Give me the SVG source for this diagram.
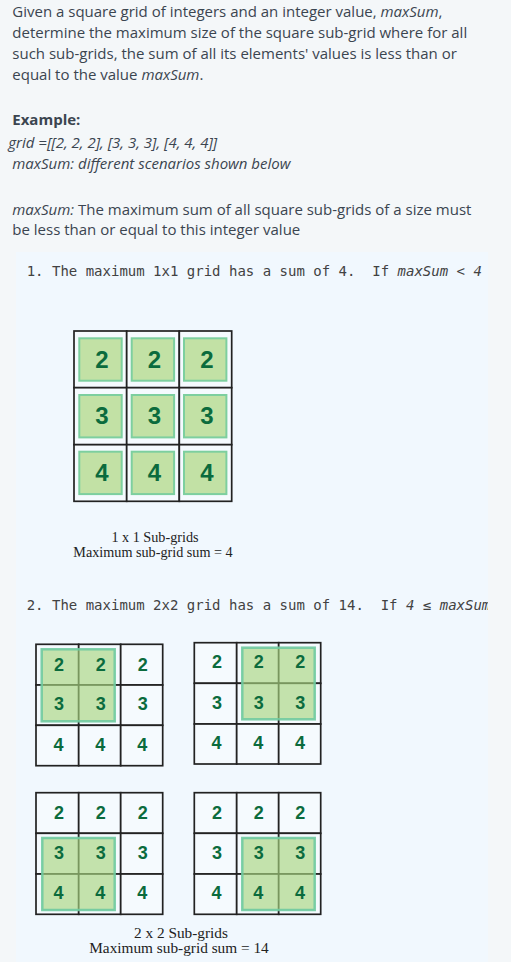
<svg xmlns="http://www.w3.org/2000/svg" width="511" height="962" viewBox="0 0 511 962">
<style>
.body{font-family:"Open Sans","Liberation Sans",sans-serif;font-size:15px;fill:#3b4550}
.it{font-style:italic}
.b{font-weight:700}
.mono{font-family:"DejaVu Sans Mono","Liberation Mono",monospace;font-size:14px;fill:#424242}
.cap{font-family:"Liberation Serif","Times New Roman",serif;fill:#222;text-anchor:middle}
.cell{fill:#f5fafe;stroke:#222;stroke-width:1.7}
.box{fill:#c2e1a5;stroke:#7dcf9f;stroke-width:2}
.ov{fill:#a8d67f;fill-opacity:0.65;stroke:#6fcaa0;stroke-width:2.5;stroke-opacity:0.9}
.d1{font-family:"Liberation Sans",Arial,sans-serif;font-weight:700;font-size:24px;fill:#0b6b3d;text-anchor:middle}
.d2{font-family:"Liberation Sans",Arial,sans-serif;font-weight:700;font-size:18px;fill:#0b6b3d;text-anchor:middle}
</style>
<defs>
<clipPath id="panelClip"><rect x="16" y="252" width="472" height="710"/></clipPath>
</defs>
<rect x="0" y="0" width="511" height="962" fill="#f4f7f9"/>
<rect x="16" y="252" width="472" height="710" fill="#f1f8fe"/>

<g id="intro" class="body">
<text x="12.3" y="17">Given a square grid of integers and an integer value, <tspan class="it">maxSum</tspan>,</text>
<text x="12.3" y="38">determine the maximum size of the square sub-grid where for all</text>
<text x="12.3" y="59">such sub-grids, the sum of all its elements' values is less than or</text>
<text x="12.3" y="79.5">equal to the value <tspan class="it">maxSum</tspan>.</text>
<text x="12.3" y="125" class="b">Example:</text>
<text x="8.3" y="147.5" class="it">grid =[[2, 2, 2], [3, 3, 3], [4, 4, 4]]</text>
<text x="12.3" y="168.5" class="it">maxSum: different scenarios shown below</text>
<text x="12.3" y="214.5"><tspan class="it">maxSum:</tspan> The maximum sum of all square sub-grids of a size must</text>
<text x="12.3" y="235">be less than or equal to this integer value</text>
</g>

<g id="scenario1-title" clip-path="url(#panelClip)">
<text x="26.7" y="276" class="mono" xml:space="preserve">1. The maximum 1x1 grid has a sum of 4.  If <tspan font-style="italic">maxSum &lt; 4</tspan></text>
</g>

<g id="grid1x1">
<rect class="cell" x="74" y="331" width="52.7" height="56.7"/>
<rect class="cell" x="126.7" y="331" width="52.6" height="56.7"/>
<rect class="cell" x="179.3" y="331" width="52.4" height="56.7"/>
<rect class="cell" x="74" y="387.7" width="52.7" height="57"/>
<rect class="cell" x="126.7" y="387.7" width="52.6" height="57"/>
<rect class="cell" x="179.3" y="387.7" width="52.4" height="57"/>
<rect class="cell" x="74" y="444.7" width="52.7" height="56.6"/>
<rect class="cell" x="126.7" y="444.7" width="52.6" height="56.6"/>
<rect class="cell" x="179.3" y="444.7" width="52.4" height="56.6"/>
<rect class="box" x="79.3" y="338.3" width="42.4" height="42.4"/>
<rect class="box" x="131.7" y="338.3" width="42.4" height="42.4"/>
<rect class="box" x="184" y="338.3" width="42.4" height="42.4"/>
<rect class="box" x="79.3" y="395" width="42.4" height="42.4"/>
<rect class="box" x="131.7" y="395" width="42.4" height="42.4"/>
<rect class="box" x="184" y="395" width="42.4" height="42.4"/>
<rect class="box" x="79.3" y="451.7" width="42.4" height="42.4"/>
<rect class="box" x="131.7" y="451.7" width="42.4" height="42.4"/>
<rect class="box" x="184" y="451.7" width="42.4" height="42.4"/>
<text class="d1" x="102" y="367.5">2</text>
<text class="d1" x="154.5" y="367.5">2</text>
<text class="d1" x="207" y="367.5">2</text>
<text class="d1" x="102" y="424">3</text>
<text class="d1" x="154.5" y="424">3</text>
<text class="d1" x="207" y="424">3</text>
<text class="d1" x="102" y="480.5">4</text>
<text class="d1" x="154.5" y="480.5">4</text>
<text class="d1" x="207" y="480.5">4</text>
</g>

<g id="caption1">
<text class="cap" x="155" y="542.2" font-size="14.2">1 x 1 Sub-grids</text>
<text class="cap" x="153" y="557" font-size="14.2">Maximum sub-grid sum = 4</text>
</g>

<g id="scenario2-title" clip-path="url(#panelClip)">
<text x="26.7" y="610" class="mono" xml:space="preserve">2. The maximum 2x2 grid has a sum of 14.  If <tspan font-style="italic">4 ≤ maxSum</tspan></text>
</g>

<g id="grid2x2-topleft">
<rect class="cell" x="36" y="644.3" width="42.7" height="40.7"/>
<rect class="cell" x="78.7" y="644.3" width="42" height="40.7"/>
<rect class="cell" x="120.7" y="644.3" width="42" height="40.7"/>
<rect class="cell" x="36" y="685" width="42.7" height="40.3"/>
<rect class="cell" x="78.7" y="685" width="42" height="40.3"/>
<rect class="cell" x="120.7" y="685" width="42" height="40.3"/>
<rect class="cell" x="36" y="725.3" width="42.7" height="40.4"/>
<rect class="cell" x="78.7" y="725.3" width="42" height="40.4"/>
<rect class="cell" x="120.7" y="725.3" width="42" height="40.4"/>
<rect class="ov" x="41.7" y="649.3" width="73" height="72"/>
<text class="d2" x="59" y="670.7">2</text>
<text class="d2" x="100.7" y="670.7">2</text>
<text class="d2" x="142.7" y="670.7">2</text>
<text class="d2" x="59" y="710">3</text>
<text class="d2" x="100.7" y="710">3</text>
<text class="d2" x="142.7" y="710">3</text>
<text class="d2" x="58.5" y="751">4</text>
<text class="d2" x="100.3" y="751">4</text>
<text class="d2" x="142.3" y="751">4</text>
</g>

<g id="grid2x2-topright">
<rect class="cell" x="194.3" y="642.7" width="42.4" height="40.6"/>
<rect class="cell" x="236.7" y="642.7" width="42" height="40.6"/>
<rect class="cell" x="278.7" y="642.7" width="42" height="40.6"/>
<rect class="cell" x="194.3" y="683.3" width="42.4" height="40.7"/>
<rect class="cell" x="236.7" y="683.3" width="42" height="40.7"/>
<rect class="cell" x="278.7" y="683.3" width="42" height="40.7"/>
<rect class="cell" x="194.3" y="724" width="42.4" height="40"/>
<rect class="cell" x="236.7" y="724" width="42" height="40"/>
<rect class="cell" x="278.7" y="724" width="42" height="40"/>
<rect class="ov" x="242.3" y="647.7" width="72.4" height="71.6"/>
<text class="d2" x="217" y="668.3">2</text>
<text class="d2" x="258.7" y="668.3">2</text>
<text class="d2" x="300.3" y="668.3">2</text>
<text class="d2" x="217" y="709.3">3</text>
<text class="d2" x="258.7" y="709.3">3</text>
<text class="d2" x="300.3" y="709.3">3</text>
<text class="d2" x="216.5" y="749">4</text>
<text class="d2" x="258.3" y="749">4</text>
<text class="d2" x="300" y="749">4</text>
</g>

<g id="grid2x2-bottomleft">
<rect class="cell" x="36" y="792.7" width="42.7" height="40.6"/>
<rect class="cell" x="78.7" y="792.7" width="42" height="40.6"/>
<rect class="cell" x="120.7" y="792.7" width="42" height="40.6"/>
<rect class="cell" x="36" y="833.3" width="42.7" height="40.7"/>
<rect class="cell" x="78.7" y="833.3" width="42" height="40.7"/>
<rect class="cell" x="120.7" y="833.3" width="42" height="40.7"/>
<rect class="cell" x="36" y="874" width="42.7" height="40.3"/>
<rect class="cell" x="78.7" y="874" width="42" height="40.3"/>
<rect class="cell" x="120.7" y="874" width="42" height="40.3"/>
<rect class="ov" x="42.3" y="838" width="72.4" height="72"/>
<text class="d2" x="59" y="819">2</text>
<text class="d2" x="100.7" y="819">2</text>
<text class="d2" x="142.7" y="819">2</text>
<text class="d2" x="59" y="859.3">3</text>
<text class="d2" x="100.7" y="859.3">3</text>
<text class="d2" x="142.7" y="859.3">3</text>
<text class="d2" x="58.5" y="899.3">4</text>
<text class="d2" x="100.3" y="899.3">4</text>
<text class="d2" x="142.3" y="899.3">4</text>
</g>

<g id="grid2x2-bottomright">
<rect class="cell" x="194.3" y="792.7" width="42.4" height="40.6"/>
<rect class="cell" x="236.7" y="792.7" width="42" height="40.6"/>
<rect class="cell" x="278.7" y="792.7" width="42" height="40.6"/>
<rect class="cell" x="194.3" y="833.3" width="42.4" height="40.7"/>
<rect class="cell" x="236.7" y="833.3" width="42" height="40.7"/>
<rect class="cell" x="278.7" y="833.3" width="42" height="40.7"/>
<rect class="cell" x="194.3" y="874" width="42.4" height="40.3"/>
<rect class="cell" x="236.7" y="874" width="42" height="40.3"/>
<rect class="cell" x="278.7" y="874" width="42" height="40.3"/>
<rect class="ov" x="242.3" y="838" width="72.4" height="72"/>
<text class="d2" x="217" y="819">2</text>
<text class="d2" x="258.7" y="819">2</text>
<text class="d2" x="300.3" y="819">2</text>
<text class="d2" x="217" y="859.3">3</text>
<text class="d2" x="258.7" y="859.3">3</text>
<text class="d2" x="300.3" y="859.3">3</text>
<text class="d2" x="216.5" y="899.3">4</text>
<text class="d2" x="258.3" y="899.3">4</text>
<text class="d2" x="300" y="899.3">4</text>
</g>

<g id="caption2">
<text class="cap" x="181" y="937.7" font-size="15.3">2 x 2 Sub-grids</text>
<text class="cap" x="179" y="953.3" font-size="15.3">Maximum sub-grid sum = 14</text>
</g>
</svg>
